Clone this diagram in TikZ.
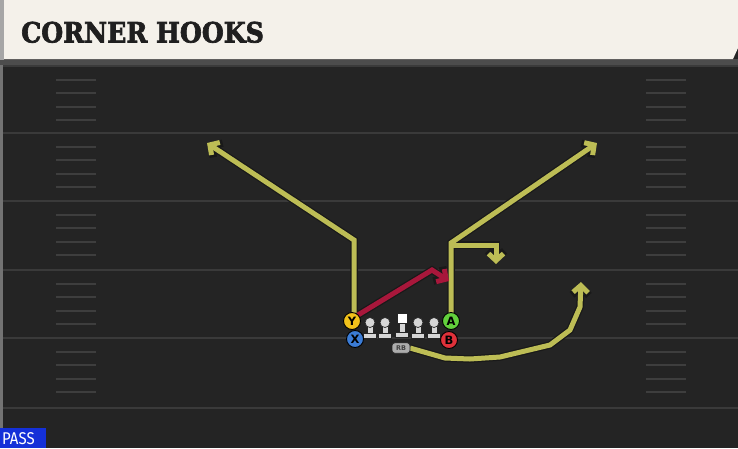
\documentclass[tikz,border=0pt]{standalone}
\usepackage{fontspec}
\usepackage{graphicx}
\setsansfont{DejaVu Sans}
\newfontfamily\titlefont[FakeBold=2.5]{DejaVu Serif}
\newfontfamily\passfont{Fira Sans}
\usetikzlibrary{arrows.meta}
\definecolor{field}{HTML}{242424}
\definecolor{yline}{HTML}{3A3A3A}
\definecolor{hashc}{HTML}{3E3E3E}
\definecolor{cream}{HTML}{F4F1EA}
\definecolor{route}{HTML}{BDBD55}
\definecolor{redroute}{HTML}{A8173B}
\definecolor{passblue}{HTML}{1430D8}
\definecolor{ycol}{HTML}{F2C21B}
\definecolor{xcol}{HTML}{3B7CD6}
\definecolor{acol}{HTML}{62D03C}
\definecolor{bcol}{HTML}{E0313A}
\definecolor{olin}{HTML}{D6D6D6}
\tikzset{
  outl/.style={line width=7.5pt, draw=black!90, line join=miter},
  rte/.style={line width=5pt, draw=route, line join=miter},
  rtered/.style={line width=5pt, draw=redroute, line join=miter},
  tipo/.style={-{Straight Barb[length=8pt,width=17pt,line width=7.5pt]}},
  tipc/.style={-{Straight Barb[length=7pt,width=15pt,line width=5pt]}},
  player/.style={circle, draw=black, line width=0.9pt, minimum size=17pt, inner sep=0pt, font=\sffamily\bfseries\fontsize{11.5}{11.5}\selectfont},
  hashm/.style={draw=hashc, line width=2pt},
  ydl/.style={draw=yline, line width=2.2pt},
  lin/.style={fill=olin, draw=black!85, line width=0.7pt},
}
\begin{document}
\begin{tikzpicture}[x=1pt,y=-1pt]
\useasboundingbox (0,0) rectangle (738,448);
% field
\fill[field] (0,0) rectangle (738,448);
\fill[black!70] (0,59) rectangle (738,65);
% yard lines
\foreach \y in {66,133,201,270,338,408} \draw[ydl] (0,\y) -- (738,\y);
% hash marks
\foreach \b in {66,133,201,270,338} {
  \foreach \k in {1,2,3,4} {
    \draw[hashm] (56,\b+13.6*\k) -- (96,\b+13.6*\k);
    \draw[hashm] (646,\b+13.6*\k) -- (686,\b+13.6*\k);
  }
}
\fill[black!55] (0,65) rectangle (2.5,448);
% header
\fill[gray!70] (0,0) rectangle (4,60);
\fill[cream] (4,0) -- (738,0) -- (738,48) -- (733,59) -- (4,59) -- cycle;
\node[anchor=base west, inner sep=0pt, text=black!88, font=\titlefont\bfseries\fontsize{28}{28}\selectfont] (title) at (21,42.5) {\scalebox{0.9}[1]{CORNER HOOKS}};
% players coordinates
\coordinate (Yc) at (352,321);
\coordinate (Xc) at (355,339);
\coordinate (Ac) at (451,321);
\coordinate (Bc) at (449,340);
% route coordinates
\coordinate (ycorner) at (354,240);
\coordinate (yend) at (207,143);
\coordinate (acorner) at (451,243);
\coordinate (aend) at (597,143);
\coordinate (hk1) at (451,245);
\coordinate (hk2) at (496,245);
\coordinate (hk3) at (496,264);
\coordinate (r1) at (432,270);
\coordinate (r2) at (449,281);
% outlines
\draw[outl, tipo] (354,313) -- (ycorner) -- (yend);
\draw[outl, tipo] (451,313) -- (acorner) -- (aend);
\draw[outl, tipo] (hk1) -- (hk2) -- (hk3);
\draw[outl, tipo] (358,315) -- (r1) -- (r2);
\draw[outl, tipo] (410,348) -- (445,358) -- (470,359) -- (500,357) -- (550,345) -- (570,330) -- (580,307) -- (581,282);
% colour
\draw[rte, tipc] (354,313) -- (ycorner) -- (yend);
\draw[rte, tipc] (451,313) -- (acorner) -- (aend);
\draw[rte, tipc] (hk1) -- (hk2) -- (hk3);
\draw[rtered, tipc] (358,315) -- (r1) -- (r2);
\draw[rte, tipc] (410,348) -- (445,358) -- (470,359) -- (500,357) -- (550,345) -- (570,330) -- (580,307) -- (581,282);
% linemen
\foreach \x/\n in {370/l1,385/l2,418/l4,434/l5} {
  \filldraw[lin] (\x-3,323) rectangle (\x+3,334);
  \filldraw[lin] (\x-6.5,333) rectangle (\x+6.5,338);
  \node[circle, lin, minimum size=10pt, inner sep=0pt] (\n) at (\x,322.5) {};
}
\filldraw[lin] (402-3,321) rectangle (402+3,333);
\filldraw[lin] (402-6.5,332) rectangle (402+6.5,337);
\node[rectangle, fill=white, draw=black!85, line width=0.7pt, minimum width=10pt, minimum height=10pt, inner sep=0pt] (cen) at (402,318) {};
% RB
\node[rounded corners=3pt, fill=gray!65, draw=black!85, line width=0.6pt, minimum width=18pt, minimum height=10.5pt, inner sep=0pt, font=\sffamily\bfseries\fontsize{6.5}{6.5}\selectfont, text=black!75] (rb) at (401,348) {RB};
% players
\node[player, fill=ycol] (Y) at (Yc) {Y};
\node[player, fill=xcol] (X) at (Xc) {X};
\node[player, fill=acol] (A) at (Ac) {A};
\node[player, fill=bcol] (B) at (Bc) {B};
% PASS label
\fill[passblue] (0,428) rectangle (46,448);
\node[anchor=base west, inner sep=0pt, text=white, font=\passfont\fontsize{17}{17}\selectfont] (pass) at (2,444.5) {\scalebox{0.88}[1]{PASS}};
\end{tikzpicture}
\end{document}
